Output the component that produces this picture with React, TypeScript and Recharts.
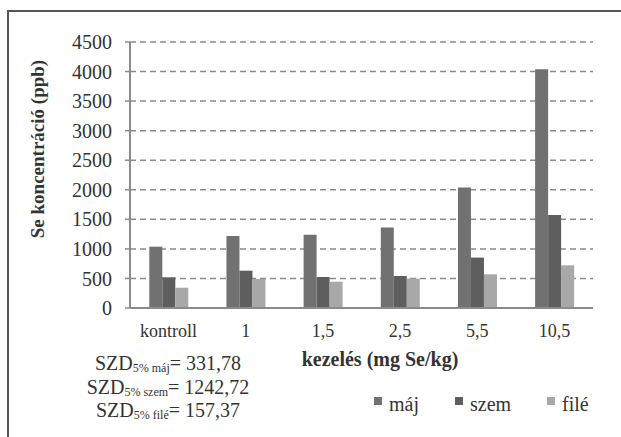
import { BarChart, Bar, XAxis, YAxis, CartesianGrid, Legend, Label } from 'recharts'

const categories = ['kontroll', '1', '1,5', '2,5', '5,5', '10,5']
const maj = [1037, 1218, 1240, 1360, 2037, 4038]
const szem = [519, 631, 525, 541, 853, 1573]
const file = [343, 491, 445, 497, 570, 722]
const yTicks = [0, 500, 1000, 1500, 2000, 2500, 3000, 3500, 4000, 4500]

const SERIES = [
  { key: 'maj', name: 'máj', color: '#717171' },
  { key: 'szem', name: 'szem', color: '#5e5e5e' },
  { key: 'file', name: 'filé', color: '#a8a8a8' },
]

const data = categories.map((c, i) => ({ cat: c, maj: maj[i], szem: szem[i], file: file[i] }))

const FONT = '"Liberation Serif", "Times New Roman", serif'
const TEXT = '#333'

function LegendContent({ payload }: any) {
  const items = SERIES.map((s) => (payload || []).find((p: any) => p.dataKey === s.key)).filter(Boolean)
  return (
    <div style={{ display: 'flex', fontFamily: FONT, fontSize: 20, color: TEXT }}>
      {items.map((p: any, i: number) => (
        <div key={i} style={{ display: 'flex', alignItems: 'center', marginRight: i === 0 ? 36 : 36 }}>
          <span style={{ width: 8, height: 8, background: p.color, display: 'inline-block', marginRight: 7, marginTop: -7 }} />
          <span>{p.value}</span>
        </div>
      ))}
    </div>
  )
}

function SzdLine({ label, value, top }: { label: string; value: string; top: number }) {
  return (
    <div style={{ position: 'absolute', left: 68, width: 200, top, textAlign: 'center', fontFamily: FONT, fontSize: 20, color: TEXT, whiteSpace: 'nowrap', lineHeight: '20px' }}>
      SZD<span style={{ fontSize: 12, position: 'relative', top: 2 }}>5% {label}</span>= {value}
    </div>
  )
}

export default function App() {
  return (
    <div style={{ position: 'absolute', left: 0, top: 0, width: 621, height: 437, background: '#fff', overflow: 'hidden' }}>
      <div style={{ position: 'absolute', left: 7, top: 10, width: 640, height: 460, borderLeft: '2px solid #555', borderTop: '2px solid #555' }} />
      <BarChart
        width={621}
        height={437}
        data={data}
        margin={{ top: 42, right: 28, bottom: 0, left: 8 }}
        barCategoryGap="25%"
        barGap={0}
      >
        <CartesianGrid vertical={false} stroke="#8a8a8a" strokeWidth={1.5} strokeDasharray="6 4" />
        <XAxis
          dataKey="cat"
          height={129}
          tickLine={false}
          tickMargin={10}
          axisLine={{ stroke: '#8a8a8a', strokeWidth: 2 }}
          tick={{ fontFamily: FONT, fontSize: 18, fill: TEXT }}
        >
          <Label
            content={({ viewBox }: any) => (
              <text x={viewBox.x + 250} y={viewBox.y + 53} textAnchor="middle" dominantBaseline="middle" fontFamily={FONT} fontSize={20} fontWeight="bold" fill={TEXT}>
                kezelés (mg Se/kg)
              </text>
            )}
          />
        </XAxis>
        <YAxis
          width={122}
          domain={[0, 4500]}
          ticks={yTicks}
          interval={0}
          tickSize={5}
          tickMargin={13}
          tickLine={{ stroke: '#8a8a8a', strokeWidth: 1.5 }}
          axisLine={{ stroke: '#8a8a8a', strokeWidth: 2 }}
          tick={{ fontFamily: FONT, fontSize: 20, fill: TEXT }}
        >
          <Label
            content={({ viewBox }: any) => (
              <text x={viewBox.x + 32} y={149} transform={`rotate(-90, ${viewBox.x + 32}, 149)`} textAnchor="middle" dominantBaseline="middle" fontFamily={FONT} fontSize={19} fontWeight="bold" fill={TEXT}>
                Se koncentráció (ppb)
              </text>
            )}
          />
        </YAxis>
        <Legend
          layout="horizontal"
          verticalAlign="middle"
          align="center"
          content={<LegendContent />}
          wrapperStyle={{ left: 374, top: 393, width: 240, height: 26 }}
        />
        {SERIES.map((s) => (
          <Bar key={s.key} dataKey={s.key} name={s.name} fill={s.color} isAnimationActive={false} />
        ))}
      </BarChart>
      <SzdLine label="máj" value="331,78" top={353} />
      <SzdLine label="szem" value="1242,72" top={377} />
      <SzdLine label="filé" value="157,37" top={400} />
    </div>
  )
}
